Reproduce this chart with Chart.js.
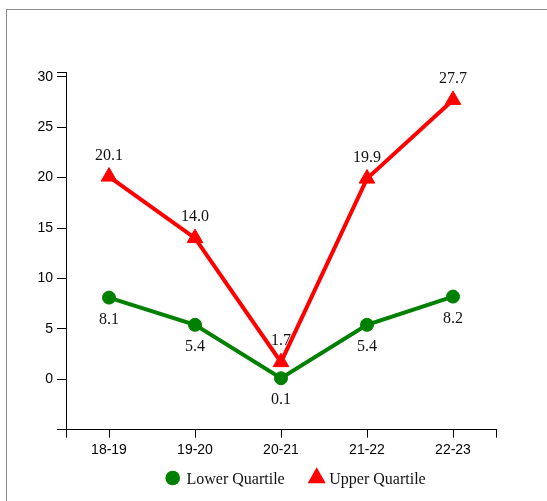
<!DOCTYPE html>
<html><head><meta charset="utf-8">
<script src="https://cdn.jsdelivr.net/npm/chart.js@4/dist/chart.umd.min.js"></script>
<style>
html,body{margin:0;padding:0;background:#fff;overflow:hidden;width:547px;height:501px}
#frame{position:absolute;left:6px;top:9px;width:600px;height:600px;border:1px solid #8c8c8c;}
#wrap{position:absolute;left:0;top:0;width:547px;height:501px}
</style></head><body>
<div id="frame"></div>
<div id="wrap"><canvas id="c" width="547" height="501"></canvas></div>
<script>
const categories = ['18-19', '19-20', '20-21', '21-22', '22-23'];
const lowerQuartile = [8.1, 5.4, 0.1, 5.4, 8.2];
const upperQuartile = [20.1, 14.0, 1.7, 19.9, 27.7];
const yTickValues = [0, 5, 10, 15, 20, 25, 30];
const seriesNames = ['Lower Quartile', 'Upper Quartile'];
const seriesColors = ['#008000', '#ff0000'];

const toPoints = arr => arr.map((v, i) => ({x: i, y: v}));

const labelPlugin = {
  id: 'valueLabels',
  beforeDatasetsDraw(chart) {
    const ctx = chart.ctx;
    ctx.save();
    ctx.font = '16px "Liberation Serif", "Times New Roman", serif';
    ctx.fillStyle = '#111';
    ctx.textAlign = 'center';
    ctx.textBaseline = 'alphabetic';
    chart.data.datasets.forEach((ds, di) => {
      const meta = chart.getDatasetMeta(di);
      meta.data.forEach((pt, i) => {
        const v = ds.data[i].y;
        const off = di === 0 ? 26 : -17;
        ctx.fillText(v.toFixed(1), pt.x, pt.y + off);
      });
    });
    ctx.restore();
  }
};

const legendPlugin = {
  id: 'customLegend',
  afterDraw(chart) {
    const ctx = chart.ctx;
    ctx.save();
    ctx.font = '16px "Liberation Serif", "Times New Roman", serif';
    ctx.fillStyle = '#111';
    ctx.textBaseline = 'alphabetic';
    ctx.textAlign = 'left';
    // circle marker
    ctx.fillStyle = seriesColors[0];
    ctx.beginPath();
    ctx.arc(172.7, 478, 7.3, 0, Math.PI * 2);
    ctx.fill();
    ctx.fillStyle = '#111';
    ctx.fillText(seriesNames[0], 186.5, 484);
    // triangle marker
    ctx.fillStyle = seriesColors[1];
    ctx.beginPath();
    ctx.moveTo(316.7, 467.3);
    ctx.lineTo(325.7, 483.3);
    ctx.lineTo(307.7, 483.3);
    ctx.closePath();
    ctx.fill();
    ctx.fillStyle = '#111';
    ctx.fillText(seriesNames[1], 329.3, 484);
    ctx.restore();
  }
};

const tickFont = {family: '"Liberation Sans", Arial, sans-serif', size: 14};

new Chart(document.getElementById('c'), {
  type: 'line',
  data: {
    datasets: [
      {
        label: seriesNames[0],
        data: toPoints(lowerQuartile),
        borderColor: seriesColors[0],
        backgroundColor: seriesColors[0],
        pointBackgroundColor: seriesColors[0],
        pointBorderColor: seriesColors[0],
        borderWidth: 4,
        pointRadius: 6.5,
        pointBorderWidth: 1,
        pointStyle: 'circle',
        fill: false,
        tension: 0,
        order: 1
      },
      {
        label: seriesNames[1],
        data: toPoints(upperQuartile),
        borderColor: seriesColors[1],
        backgroundColor: seriesColors[1],
        pointBackgroundColor: seriesColors[1],
        pointBorderColor: seriesColors[1],
        borderWidth: 4,
        pointRadius: 9,
        pointBorderWidth: 1,
        pointStyle: 'triangle',
        fill: false,
        tension: 0,
        order: 0
      }
    ]
  },
  options: {
    responsive: false,
    animation: false,
    devicePixelRatio: 1,
    layout: {padding: {left: 0, top: 72, right: 51, bottom: 0}},
    plugins: {legend: {display: false}, tooltip: {enabled: false}},
    scales: {
      x: {
        type: 'linear',
        min: -0.5,
        max: 4.5,
        afterBuildTicks: s => { s.ticks = [-0.5, 0, 1, 2, 3, 4, 4.5].map(v => ({value: v})); },
        afterFit: s => { s.height = 71.3; },
        ticks: {
          autoSkip: false,
          maxRotation: 0,
          font: tickFont,
          color: '#000',
          padding: 4,
          callback: v => Number.isInteger(v) ? categories[v] : ''
        },
        grid: {drawOnChartArea: false, drawTicks: true, tickLength: 8, color: '#000', lineWidth: 1},
        border: {display: true, color: '#000', width: 1}
      },
      y: {
        type: 'linear',
        min: -5,
        max: 30.47,
        afterBuildTicks: s => { s.ticks = [-5, ...yTickValues, 30.47].map(v => ({value: v})); },
        afterFit: s => { s.width = 66; },
        ticks: {
          autoSkip: false,
          font: tickFont,
          color: '#000',
          padding: 4,
          callback: v => yTickValues.includes(v) ? String(v) : ''
        },
        grid: {drawOnChartArea: false, drawTicks: true, tickLength: 9, color: '#000', lineWidth: 1},
        border: {display: true, color: '#000', width: 1}
      }
    }
  },
  plugins: [labelPlugin, legendPlugin]
});
</script>
</body></html>
